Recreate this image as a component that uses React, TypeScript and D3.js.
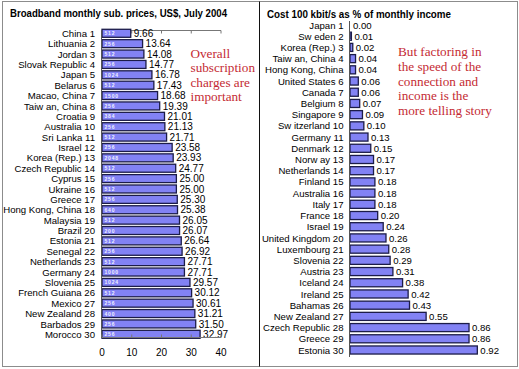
import React from "react";
import * as d3 from "d3";

const leftCountries = [
  "China 1", "Lithuania 2", "Jordan 3", "Slovak Republic 4", "Japan 5", "Belarus 6",
  "Macao, China 7", "Taiw an, China 8", "Croatia 9", "Australia 10", "Sri Lanka 11",
  "Israel 12", "Korea (Rep.) 13", "Czech Republic 14", "Cyprus 15", "Ukraine 16",
  "Greece 17", "Hong Kong, China 18", "Malaysia 19", "Brazil 20", "Estonia 21",
  "Senegal 22", "Netherlands 23", "Germany 24", "Slovenia 25", "French Guiana 26",
  "Mexico 27", "New Zealand 28", "Barbados 29", "Morocco 30",
];
const leftValues = [
  9.66, 13.64, 14.08, 14.77, 16.78, 17.43, 18.68, 19.39, 21.01, 21.13, 21.71, 23.58,
  23.93, 24.77, 25.0, 25.0, 25.3, 25.38, 26.05, 26.07, 26.64, 26.92, 27.71, 27.71,
  29.57, 30.12, 30.61, 31.21, 31.5, 32.97,
];
const leftSpeeds = [
  "512", "256", "512", "256", "1024", "512", "1500", "256", "384", "256", "512", "256",
  "2048", "512", "256", "512", "256", "640", "512", "200", "512", "256", "512", "1000",
  "1024", "512", "256", "400", "256", "256",
];
const leftTicks = [0, 10, 20, 30, 40];

const rightCountries = [
  "Japan 1", "Sw eden 2", "Korea (Rep.) 3", "Taiw an, China 4", "Hong Kong, China",
  "United States 6", "Canada 7", "Belgium 8", "Singapore 9", "Sw itzerland 10",
  "Germany 11", "Denmark 12", "Norw ay 13", "Netherlands 14", "Finland 15",
  "Australia 16", "Italy 17", "France 18", "Israel 19", "United Kingdom 20",
  "Luxembourg 21", "Slovenia 22", "Austria 23", "Iceland 24", "Ireland 25",
  "Bahamas 26", "New Zealand 27", "Czech Republic 28", "Greece 29", "Estonia 30",
];
const rightValues = [
  0.0, 0.01, 0.02, 0.04, 0.04, 0.06, 0.06, 0.07, 0.09, 0.1, 0.13, 0.15, 0.17, 0.17,
  0.18, 0.18, 0.18, 0.2, 0.24, 0.26, 0.28, 0.29, 0.31, 0.38, 0.42, 0.43, 0.55, 0.86,
  0.86, 0.92,
];

const leftTitle = "Broadband monthly sub. prices, US$, July 2004";
const rightTitle = "Cost 100 kbit/s as % of monthly income";
const leftNote = ["Overall", "subscription", "charges are", "important"];
const rightNote = [
  "But factoring in",
  "the speed of the",
  "connection and",
  "income is the",
  "more telling story",
];

const SANS = "'Liberation Sans', Arial, sans-serif";
const SERIF = "'Liberation Serif', 'Times New Roman', serif";
const BAR_FILL = "#8282f4";
const BAR_STROKE = "#1c1c48";
const RED = "#c42a33";

export default function App() {
  const W = 519;
  const H = 369;

  // Left panel scales
  const xL = d3.scaleLinear().domain([0, 40]).range([102, 221]);
  const yL = d3
    .scaleBand<number>()
    .domain(d3.range(leftCountries.length))
    .range([28.1, 339.5])
    .paddingInner(0.23)
    .paddingOuter(0.115);

  // Right panel scales
  const xR = d3.scaleLinear().domain([0, 1]).range([350, 488.4]);
  const yR = d3
    .scaleBand<number>()
    .domain(d3.range(rightCountries.length))
    .range([19.4, 355.6])
    .paddingInner(0.28)
    .paddingOuter(0.14);

  const fmt2 = d3.format(".2f");

  return (
    <svg
      width={W}
      height={H}
      style={{ position: "absolute", left: 0, top: 0, background: "#fff" }}
    >
      <rect x={0} y={0} width={W} height={H} fill="#fff" />
      <rect x={2.5} y={1.5} width={515} height={365} fill="none" stroke="#8c8c8c" strokeWidth={1} />
      <line x1={259.5} x2={259.5} y1={1.5} y2={366.5} stroke="#111" strokeWidth={1} />

      {/* LEFT PANEL */}
      <text x={10} y={17} fontFamily={SANS} fontWeight="bold" fontSize={10} fill="#000" textLength={217} lengthAdjust="spacingAndGlyphs">
        {leftTitle}
      </text>
      {/* top axis line with ticks */}
      <line x1={xL(0)} x2={xL(40)} y1={30.5} y2={30.5} stroke="#777" strokeWidth={1} />
      {leftTicks.map((t) => (
        <line key={"tt" + t} x1={xL(t)} x2={xL(t)} y1={30.5} y2={33.5} stroke="#777" />
      ))}
      {/* bars */}
      {leftValues.map((v, i) => {
        const y = yL(i)!;
        const h = yL.bandwidth();
        return (
          <g key={"lb" + i}>
            <rect x={xL(0)} y={y} width={xL(v) - xL(0)} height={h} fill={BAR_FILL} stroke={BAR_STROKE} strokeWidth={1.3} />
            <text
              x={xL(0) + 2.5}
              y={y + h / 2 + 2}
              fontFamily={SANS}
              fontSize={5}
              fontWeight="bold"
              letterSpacing={0.8}
              fill="#f0f0ff"
            >
              {leftSpeeds[i]}
            </text>
            <text x={xL(v) + 3} y={y + h / 2 + 3.6} fontFamily={SANS} fontSize={10} fill="#000">
              {fmt2(v)}
            </text>
            <text x={95} y={y + h / 2 + 3.6} textAnchor="end" fontFamily={SANS} fontSize={9.6} fill="#000">
              {leftCountries[i]}
            </text>
          </g>
        );
      })}
      {/* vertical axis */}
      <line x1={xL(0) - 0.5} x2={xL(0) - 0.5} y1={30.5} y2={338} stroke="#555" />
      {/* bottom axis */}
      <line x1={xL(0)} x2={xL(40)} y1={337.5} y2={337.5} stroke="#777" />
      {leftTicks.map((t) => (
        <g key={"bt" + t}>
          <line x1={xL(t)} x2={xL(t)} y1={334.5} y2={337.5} stroke="#777" />
          <text x={xL(t)} y={356} textAnchor="middle" fontFamily={SANS} fontSize={10} fill="#000">
            {t}
          </text>
        </g>
      ))}
      {leftNote.map((s, i) => (
        <text key={"ln" + i} x={190.5} y={57.5 + i * 14.5} fontFamily={SERIF} fontSize={13.2} fill={RED}>
          {s}
        </text>
      ))}

      {/* RIGHT PANEL */}
      <text x={267} y={18} fontFamily={SANS} fontWeight="bold" fontSize={10} fill="#000" textLength={184} lengthAdjust="spacingAndGlyphs">
        {rightTitle}
      </text>
      {rightValues.map((v, i) => {
        const y = yR(i)!;
        const h = yR.bandwidth();
        return (
          <g key={"rb" + i}>
            {v > 0 && (
              <rect x={xR(0)} y={y} width={xR(v) - xR(0)} height={h} fill={BAR_FILL} stroke={BAR_STROKE} strokeWidth={1.3} />
            )}
            <text x={xR(v) + 3} y={y + h / 2 + 3.6} fontFamily={SANS} fontSize={9.6} fill="#000">
              {fmt2(v)}
            </text>
            <text x={343.5} y={y + h / 2 + 3.6} textAnchor="end" fontFamily={SANS} fontSize={9.6} fill="#000">
              {rightCountries[i]}
            </text>
          </g>
        );
      })}
      <line x1={xR(0) - 0.5} x2={xR(0) - 0.5} y1={21} y2={357} stroke="#555" />
      {rightNote.map((s, i) => (
        <text key={"rn" + i} x={398} y={56 + i * 14.8} fontFamily={SERIF} fontSize={13.2} fill={RED}>
          {s}
        </text>
      ))}
    </svg>
  );
}
